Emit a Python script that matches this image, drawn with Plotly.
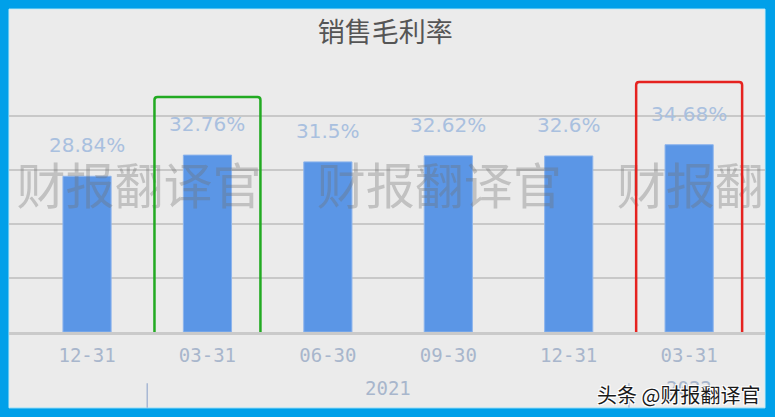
import plotly.graph_objects as go

# quarter end dates, their years, gross margin (%)
dates = ["12-31", "03-31", "06-30", "09-30", "12-31", "03-31"]
years = ["2020", "2021", "2021", "2021", "2021", "2022"]
margin = [28.84, 32.76, 31.5, 32.62, 32.6, 34.68]
labels = ["28.84%", "32.76%", "31.5%", "32.62%", "32.6%", "34.68%"]

# boxes drawn around some bars: index -> (colour, top of box in %)
highlight = {1: ("#22aa22", 43.5), 5: ("#e5221f", 46.3)}

BLUE = "#00a0e9"
BG = "#ebebeb"
MONO = "DejaVu Sans Mono"
idx = list(range(len(dates)))


def rounded_box(x0, x1, y0, y1, rx=0.025, ry=0.55):
    return (f"M {x0 + rx},{y0} L {x1 - rx},{y0} Q {x1},{y0} {x1},{y0 + ry} "
            f"L {x1},{y1 - ry} Q {x1},{y1} {x1 - rx},{y1} "
            f"L {x0 + rx},{y1} Q {x0},{y1} {x0},{y1 - ry} "
            f"L {x0},{y0 + ry} Q {x0},{y0} {x0 + rx},{y0} Z")


fig = go.Figure()
fig.add_trace(go.Bar(
    x=idx, y=margin, width=0.4,
    marker=dict(color="#5b96e6", line=dict(color="#8db4ec", width=1)),
    hoverinfo="skip",
))

# watermark on a hidden overlay axis so it gets clipped at the frame
fig.add_trace(go.Scatter(
    x=[0.172, 0.569, 0.966], y=[0.52, 0.52, 0.52],
    mode="text", text=["财报翻译官"] * 3,
    textfont=dict(size=49, color="rgba(110,110,110,0.34)",
                  family="Noto Sans CJK SC"),
    xaxis="x2", yaxis="y2", cliponaxis=True, hoverinfo="skip",
))

for i, v in enumerate(margin):
    fig.add_annotation(x=i, y=v, text=labels[i], showarrow=False,
                       yshift=31, font=dict(size=20, color="#a9c0df",
                                            family="DejaVu Sans"))

# year labels under the groups (the first group is scrolled off on the left)
groups = []
for i, yr in enumerate(years):
    if groups and groups[-1][0] == yr:
        groups[-1][1].append(i)
    else:
        groups.append((yr, [i]))
for n, (yr, members) in enumerate(groups):
    if n > 0:
        fig.add_annotation(x=sum(members) / len(members), y=-0.207,
                           xref="x", yref="paper", text=yr, showarrow=False,
                           yanchor="middle",
                           font=dict(size=19, color="#a8b6cc", family=MONO))
        b = members[0] - 0.5
        fig.add_shape(type="line", xref="x", yref="paper", x0=b, x1=b,
                      y0=-0.19, y1=-0.281,
                      line=dict(color="#a8b8d4", width=1.5))

# inner grey card
fig.add_shape(type="rect", xref="paper", yref="paper", x0=0, x1=1,
              y0=-0.281, y1=1.196, fillcolor=BG, layer="below",
              line=dict(color="#c4ecf8", width=1))

for i, (col, top) in highlight.items():
    fig.add_shape(type="path", xref="x", yref="y",
                  path=rounded_box(i - 0.44, i + 0.44, -7.8, top),
                  line=dict(color=col, width=2.5))

fig.add_annotation(x=0.996, y=-0.233, xref="paper", yref="paper",
                   xanchor="right", yanchor="middle", showarrow=False,
                   text="头条 @财报翻译官",
                   font=dict(size=20, color="#1a1a1a", family="Noto Sans CJK SC",
                             shadow="-1px -1px 0 #fff, 1px -1px 0 #fff, "
                                    "-1px 1px 0 #fff, 1px 1px 0 #fff"))

fig.update_layout(
    width=775, height=417,
    margin=dict(l=9, r=10, t=62, b=85),
    paper_bgcolor=BLUE, plot_bgcolor="rgba(0,0,0,0)",
    showlegend=False,
    title=dict(text="销售毛利率", x=0.497, xanchor="center", y=1 - 33 / 417,
               yanchor="middle",
               font=dict(size=27, color="#555555", family="Noto Sans CJK SC")),
    xaxis=dict(range=[-0.648, 5.63], tickvals=idx, ticktext=dates,
               showgrid=False, zeroline=False, showline=True,
               linecolor="#cacaca", linewidth=3, ticks="", ticklabelstandoff=4,
               tickfont=dict(size=19, color="#a8b6cc", family=MONO)),
    yaxis=dict(range=[0, 50], dtick=10, showticklabels=False,
               gridcolor="#c8c8c8", gridwidth=2, zeroline=False),
    xaxis2=dict(overlaying="x", range=[0, 1], visible=False),
    yaxis2=dict(overlaying="y", range=[0, 1], visible=False),
)

fig.write_html("out.html", config={"displayModeBar": False},
               post_script="document.body.style.margin='0';")
